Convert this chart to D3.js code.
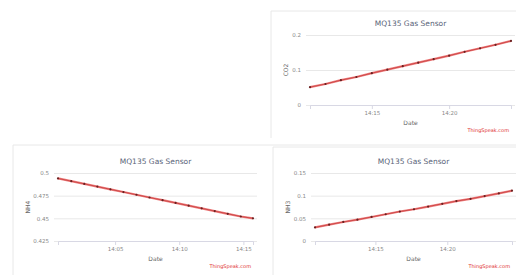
<!DOCTYPE html>
<html>
<head>
<meta charset="utf-8">
<script src="https://cdn.jsdelivr.net/npm/d3@7"></script>
<style>
  body { margin: 0; background: #fff; }
  svg { display: block; font-family: "DejaVu Sans", sans-serif; }
</style>
</head>
<body>
<svg id="chart" width="516" height="275"></svg>
<script>
// readings per channel (time, value)
const timesCO2 = ["14:11:00","14:12:00","14:13:00","14:14:00","14:15:00","14:16:00","14:17:00",
                  "14:18:00","14:19:00","14:20:00","14:21:00","14:22:00","14:23:00","14:24:00"];
const valuesCO2 = [0.051, 0.060, 0.071, 0.080, 0.091, 0.101, 0.111, 0.121, 0.131, 0.141, 0.152, 0.162, 0.172, 0.183];

const timesNH4 = ["14:00:33","14:01:35","14:02:36","14:03:37","14:04:38","14:05:39","14:06:40","14:07:41",
                  "14:08:42","14:09:43","14:10:44","14:11:45","14:12:46","14:13:47","14:14:48","14:15:45"];
const valuesNH4 = [0.494, 0.491, 0.488, 0.485, 0.482, 0.479, 0.476, 0.473, 0.470, 0.467, 0.464, 0.461, 0.458, 0.455, 0.452, 0.450];

const timesNH3 = ["14:10:48","14:11:47","14:12:46","14:13:45","14:14:44","14:15:43","14:16:42","14:17:41",
                  "14:18:40","14:19:39","14:20:38","14:21:37","14:22:36","14:23:35","14:24:30"];
const valuesNH3 = [0.030, 0.036, 0.042, 0.047, 0.053, 0.059, 0.065, 0.070, 0.076, 0.082, 0.088, 0.093, 0.099, 0.105, 0.111];

const ticksCO2 = [0, 0.1, 0.2];
const ticksNH4 = [0.425, 0.45, 0.475, 0.5];
const ticksNH3 = [0, 0.05, 0.1, 0.15];

const title = "MQ135 Gas Sensor";
const parseTime = d3.timeParse("%H:%M:%S");

const panels = [
    { box: [271, 11, 138], x0: 310, x1: 511, yTop: 35, yBot: 105, label: "CO2",
      times: timesCO2, values: valuesCO2, ticks: ticksCO2 },
    { box: [13, 145, 275], x0: 58, x1: 253, yTop: 173, yBot: 241, label: "NH4",
      times: timesNH4, values: valuesNH4, ticks: ticksNH4 },
    { box: [273, 147, 275], x0: 315, x1: 512, yTop: 173, yBot: 241, label: "NH3",
      times: timesNH3, values: valuesNH3, ticks: ticksNH3 }
];

const svg = d3.select("#chart");

for (let p of panels) {
    let g = svg.append("g");
    let data = p.times.map((t, i) => ({ t: parseTime(t), v: p.values[i] }));

    let x = d3.scaleTime().domain(d3.extent(data, d => d.t)).range([p.x0, p.x1]);
    let y = d3.scaleLinear().domain(d3.extent(p.ticks)).range([p.yBot, p.yTop]);

    // panel frame
    g.append("line").attr("x1", p.box[0]).attr("x2", 516).attr("y1", p.box[1]).attr("y2", p.box[1])
        .attr("stroke", "#e8e8e8");
    g.append("line").attr("x1", p.box[0]).attr("x2", p.box[0]).attr("y1", p.box[1]).attr("y2", p.box[2])
        .attr("stroke", "#e8e8e8");

    // title
    let cx = (p.x0 + p.x1) / 2;
    g.append("text").attr("x", cx).attr("y", p.yTop - 9).attr("text-anchor", "middle")
        .attr("font-size", 7.5).attr("fill", "#5a6478").text(title);

    // y grid + labels
    let yAxis = g.append("g").attr("transform", `translate(${p.x0 - 4},0)`)
        .call(d3.axisLeft(y).tickValues(p.ticks).tickFormat(d3.format("")).tickSize(-(p.x1 - p.x0 + 8)).tickPadding(5));
    yAxis.select(".domain").remove();
    yAxis.selectAll("line").attr("stroke", "#e8e8e8");
    yAxis.selectAll("text").attr("font-size", 5.5).attr("fill", "#888").attr("font-family", "DejaVu Sans");

    // x axis
    let xAxis = g.append("g").attr("transform", `translate(0,${p.yBot})`)
        .call(d3.axisBottom(x).ticks(d3.timeMinute.every(5)).tickFormat(d3.timeFormat("%H:%M")).tickSize(4).tickPadding(2));
    xAxis.select(".domain").attr("stroke", "#d8d8e4");
    xAxis.selectAll("line").attr("stroke", "#d8d8e4");
    xAxis.selectAll("text").attr("font-size", 5.5).attr("fill", "#888").attr("font-family", "DejaVu Sans");

    // axis titles
    g.append("text").attr("x", cx).attr("y", p.yBot + 20).attr("text-anchor", "middle")
        .attr("font-size", 6).attr("fill", "#666").text("Date");
    let ly = (p.yTop + p.yBot) / 2;
    let lx = p.box[0] + 17;
    g.append("text").attr("transform", `translate(${lx},${ly}) rotate(-90)`).attr("text-anchor", "middle")
        .attr("font-size", 6).attr("fill", "#666").text(p.label);

    // credit
    g.append("text").attr("x", p.x1 - 2).attr("y", p.yBot + 27).attr("text-anchor", "end")
        .attr("font-size", 5).attr("fill", "#e03030").text("ThingSpeak.com");

    // series
    let line = d3.line().x(d => x(d.t)).y(d => y(d.v));
    g.append("path").datum(data).attr("d", line).attr("fill", "none")
        .attr("stroke", "#ee8080").attr("stroke-width", 2.2);
    g.append("path").datum(data).attr("d", line).attr("fill", "none")
        .attr("stroke", "#c03030").attr("stroke-width", 0.7);
    g.selectAll("circle").data(data).join("circle")
        .attr("cx", d => x(d.t)).attr("cy", d => y(d.v)).attr("r", 1.1).attr("fill", "#6a2020");
}
</script>
</body>
</html>
